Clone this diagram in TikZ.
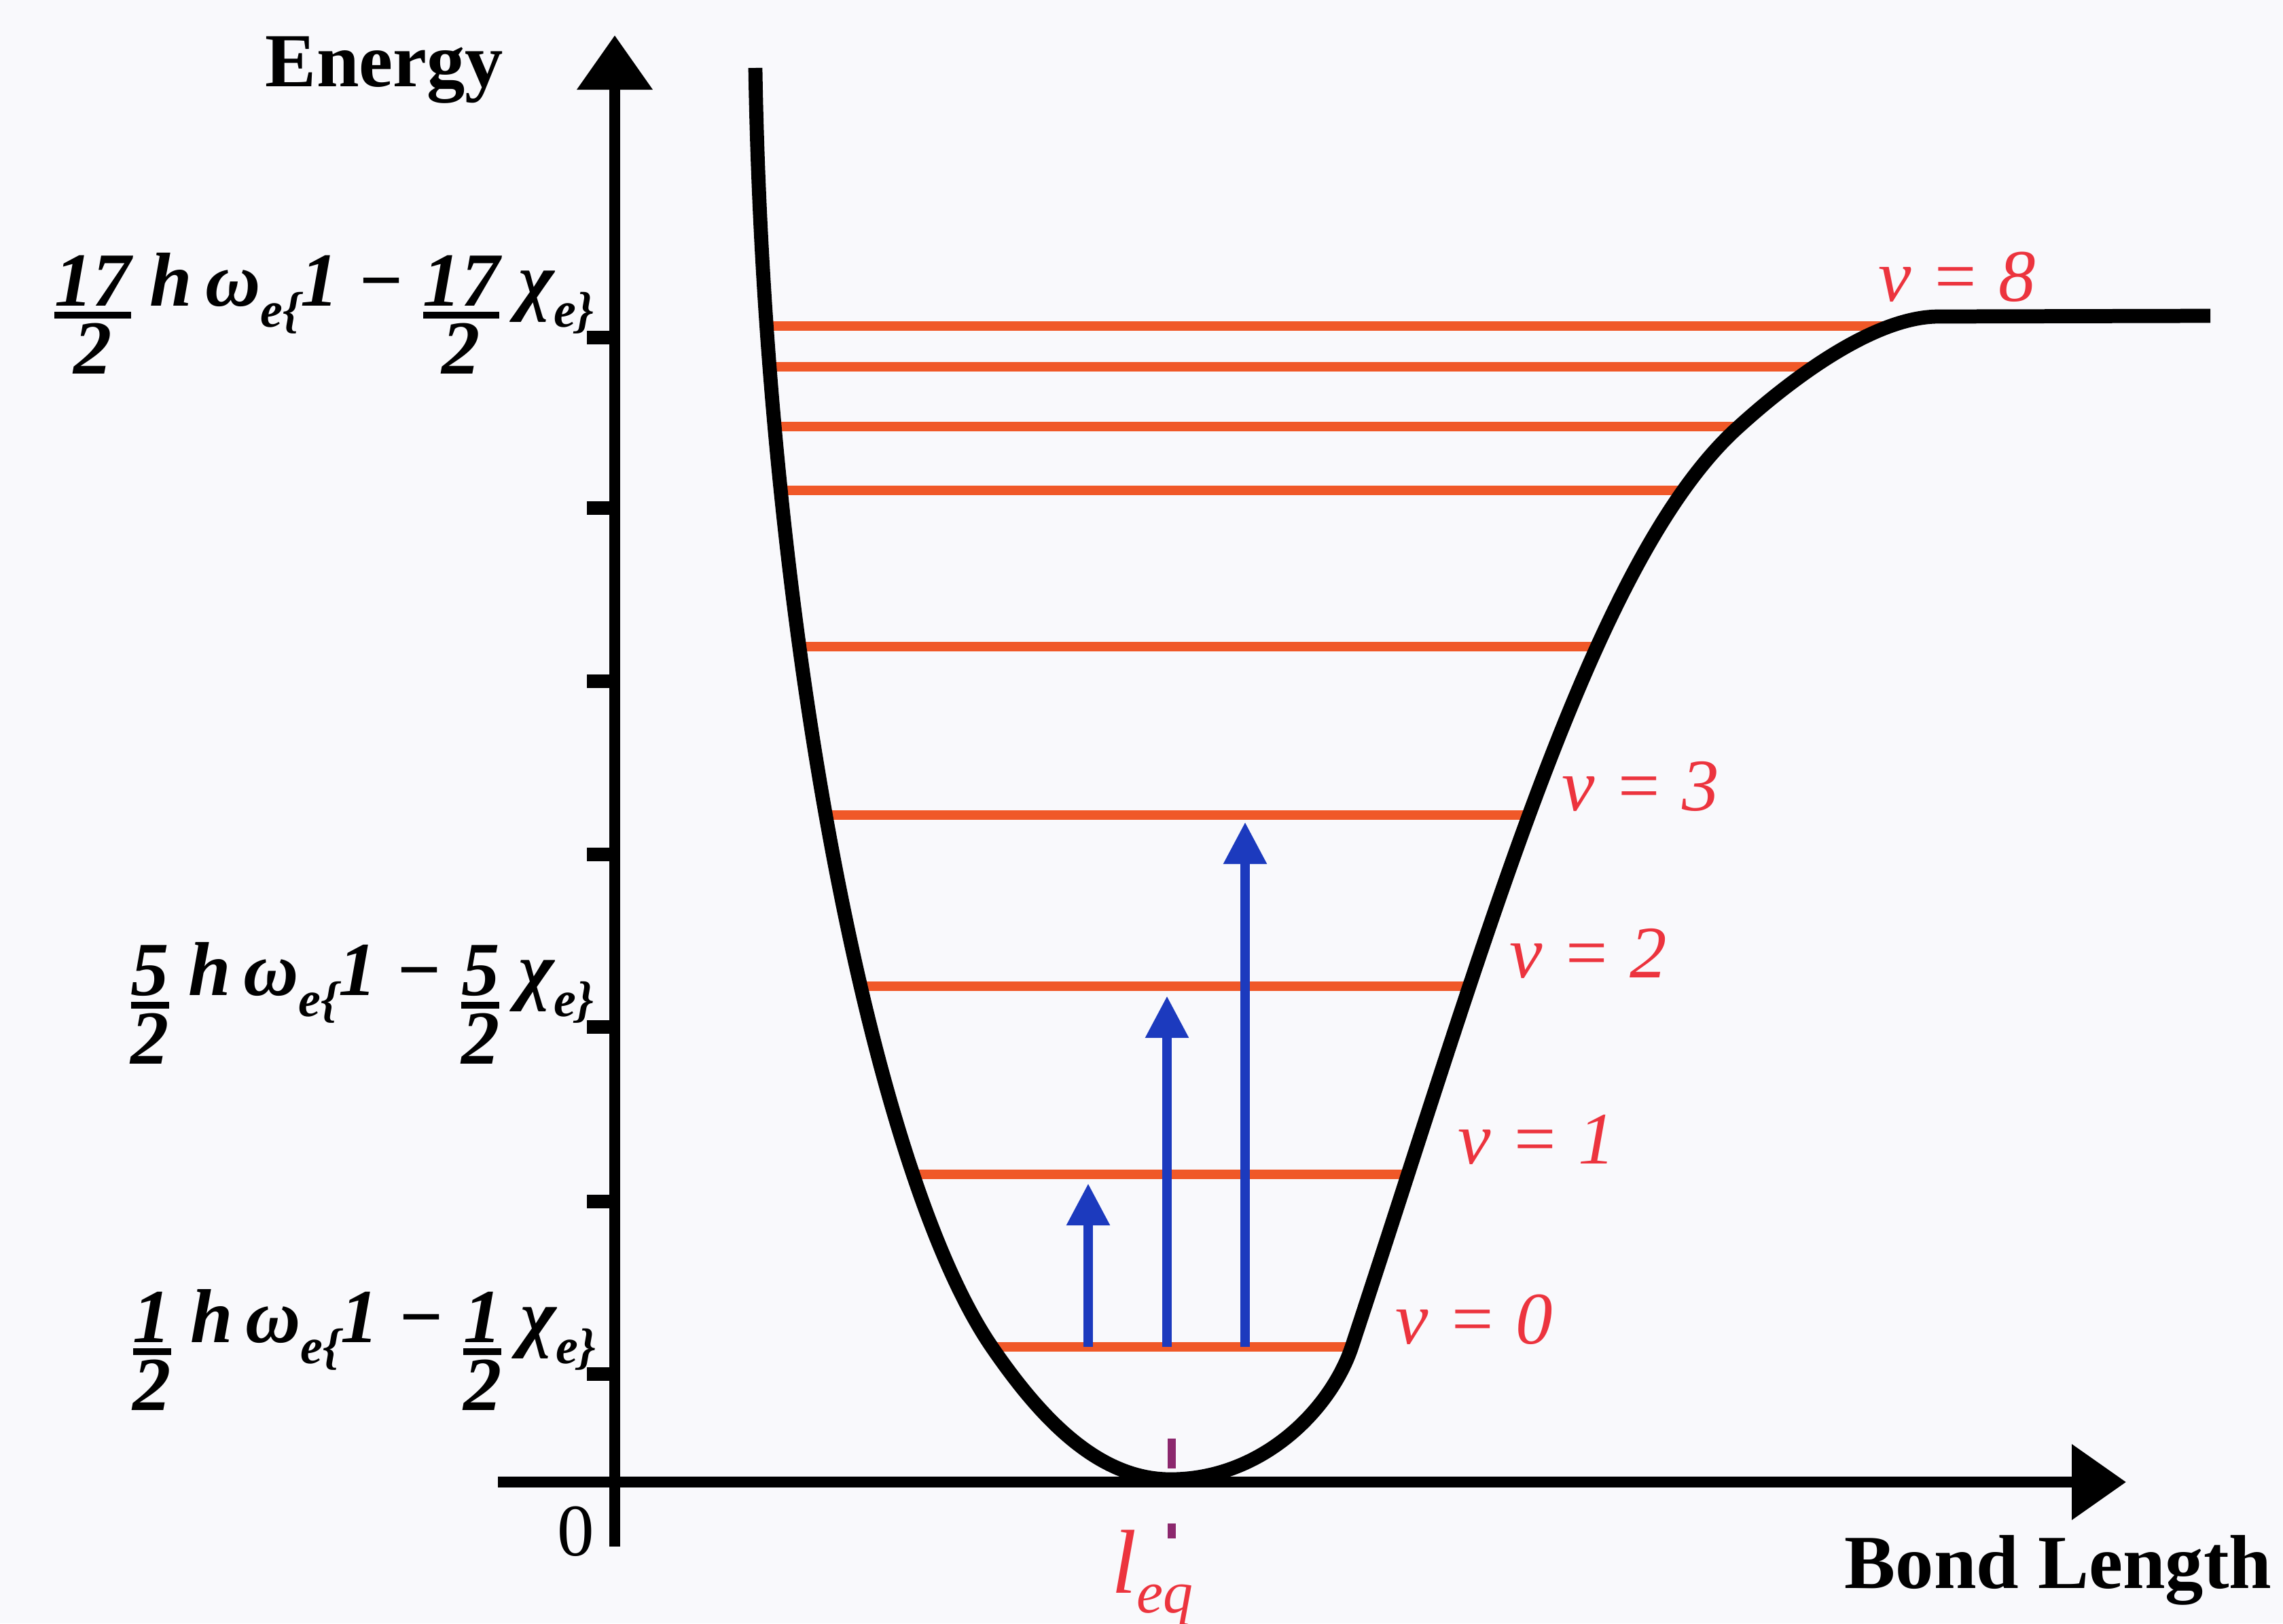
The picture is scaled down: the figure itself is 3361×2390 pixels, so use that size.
\documentclass[tikz,border=0pt]{standalone}
\usepackage{fontspec}
\setmainfont{Liberation Serif}
\usetikzlibrary{arrows.meta}
\definecolor{bg}{RGB}{249,249,252}
\definecolor{lvl}{RGB}{240,88,40}
\definecolor{lab}{RGB}{236,52,62}
\definecolor{arr}{RGB}{28,58,190}
\definecolor{eqc}{RGB}{140,40,110}
\newcommand\fr[2]{\vtop{\offinterlineskip\halign{\hfil##\hfil\cr#1\cr\noalign{\kern0.08em\hrule height0.09em\kern0.06em}#2\cr}}}
\newcommand\sbs[1]{\raisebox{-0.28em}{\fontsize{21}{21}\selectfont#1}}
\begin{document}
\begin{tikzpicture}[x=0.01cm,y=-0.01cm,
 axis/.style={line width=4.3pt, -{Triangle[length=0.8cm,width=1.08cm]}},
 tickmark/.style={line width=5.5pt},
 level/.style={draw=lvl, line width=3.9pt},
 trans/.style={draw=arr, line width=4.2pt, -{Triangle[length=0.62cm,width=0.6cm]}},
 pot/.style={line width=5.9pt, line join=round},
 vlab/.style={text=lab, font=\fontsize{31}{36}\selectfont\itshape, inner sep=0pt, anchor=base west},
 elab/.style={font=\fontsize{32}{38}\selectfont\bfseries\itshape, inner sep=0pt, anchor=base east},
 title/.style={font=\fontsize{32}{38}\selectfont\bfseries, inner sep=0pt}]
\fill[bg] (0,0) rectangle (3361,2390);
\useasboundingbox (0,0) rectangle (3361,2390);

% axes
\coordinate (ybot) at (905,2277);
\coordinate (ytop) at (905,52);
\coordinate (xleft) at (733,2182);
\coordinate (xright) at (3130,2182);
\draw[axis] (ybot) -- (ytop);
\draw[axis] (xleft) -- (xright);
\foreach \y in {497,748,1003,1258,1512,1769,2023}
  \draw[tickmark] (864,\y) -- (905,\y);

% energy levels
\foreach \y/\a/\b in {480/1128/2790, 540/1131/2668, 628/1138/2560, 722/1148/2478,
  952/1177/2351, 1200/1218/2250, 1452/1268/2163, 1729/1340/2072, 1983/1460/1990}
  \draw[level] (\a,\y) -- (\b,\y);

% potential curve
\coordinate (p0) at (1112,100);
\coordinate (p1) at (1460,1983);
\coordinate (pm) at (1723,2178);
\coordinate (p2) at (1990,1983);
\coordinate (p4) at (2560,628);
\coordinate (p5) at (2854,466);
\coordinate (p6) at (3254,465);
\draw[pot] (p0) .. controls (1125,900) and (1280,1720) .. (p1)
  .. controls (1530,2085) and (1615,2178) .. (pm)
  .. controls (1860,2178) and (1960,2073) .. (p2)
  .. controls (2188,1383) and (2345,820) .. (p4)
  .. controls (2626,568) and (2754,466) .. (p5)
  -- (p6);

% transitions
\coordinate (a0) at (1602,1983); \coordinate (a1) at (1602,1742);
\coordinate (b0) at (1718,1983); \coordinate (b1) at (1718,1466);
\coordinate (c0) at (1833,1983); \coordinate (c1) at (1833,1210);
\draw[trans] (a0) -- (a1);
\draw[trans] (b0) -- (b1);
\draw[trans] (c0) -- (c1);

% l_eq mark
\draw[eqc, line width=3.4pt] (1725,2118) -- (1725,2162);
\draw[eqc, line width=3.4pt] (1725,2243) -- (1725,2265);

% labels
\node[title, anchor=base] (energy) at (566,127) {Energy};
\node[title, anchor=base east] (bond) at (3345,2338) {Bond Length};
\node[font=\fontsize{31}{36}\selectfont, anchor=base, inner sep=0pt] (zero) at (848,2290) {0};
\node[text=lab, anchor=base west, inner sep=0pt] (leq) at (1636,2345)
  {\fontsize{38}{40}\selectfont\itshape l\raisebox{-0.22em}{\fontsize{25}{25}\selectfont eq}};

\node[vlab] (v8) at (2765,443) {v = 8};
\node[vlab] (v3) at (2299,1193) {v = 3};
\node[vlab] (v2) at (2222,1439) {v = 2};
\node[vlab] (v1) at (2146,1713) {v = 1};
\node[vlab] (v0) at (2054,1978) {v = 0};

\node[elab] (e17) at (875,450) {\fr{17}{2}\ h\,ω\sbs{e\{}1 − \fr{17}{2}\ χ\sbs{e\}}};
\node[elab] (e5) at (875,1465) {\fr{5}{2}\ h\,ω\sbs{e\{}1 − \fr{5}{2}\ χ\sbs{e\}}};
\node[elab] (e1) at (878,1976) {\fr{1}{2}\ h\,ω\sbs{e\{}1 − \fr{1}{2}\ χ\sbs{e\}}};
\end{tikzpicture}
\end{document}
